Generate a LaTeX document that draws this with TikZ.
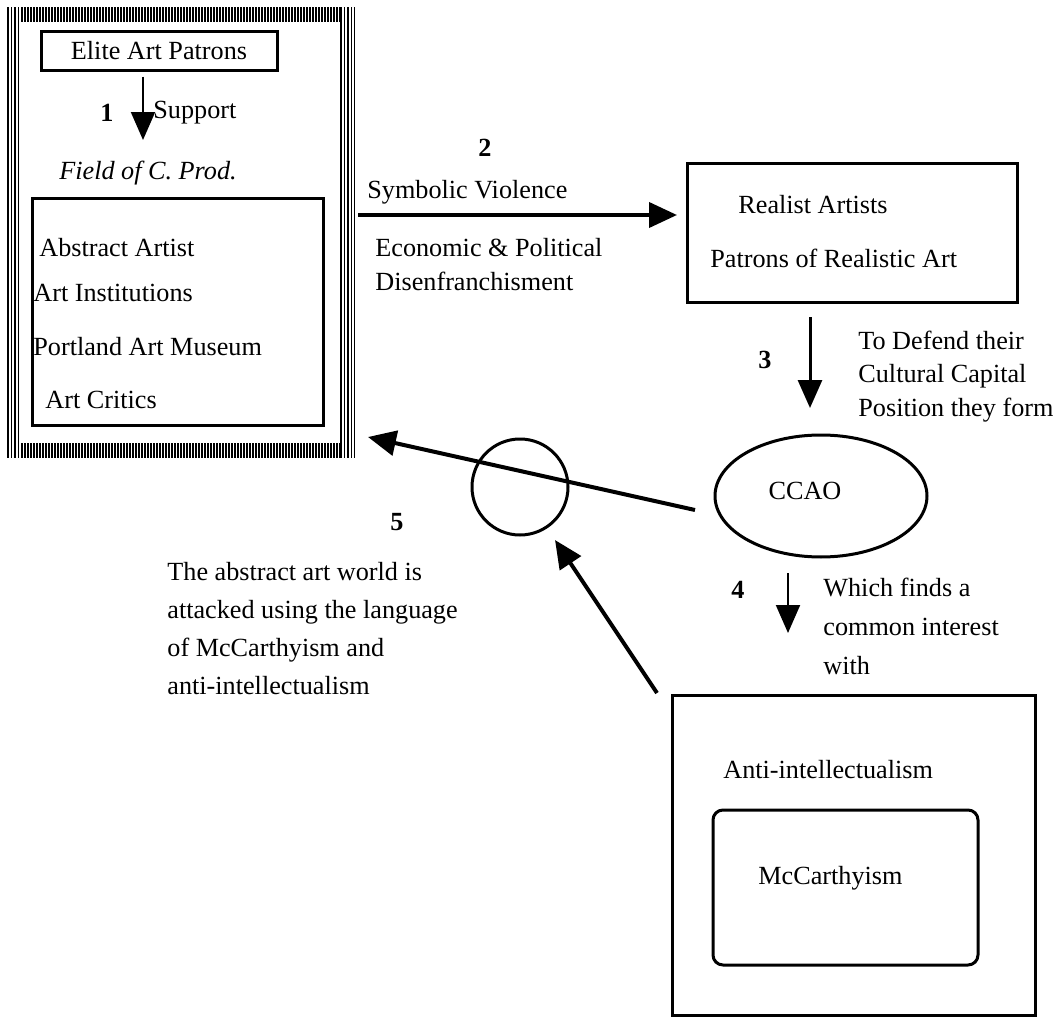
\documentclass[tikz,border=0pt]{standalone}
\usepackage{fontspec}
\setmainfont{Liberation Serif}
\usetikzlibrary{arrows.meta,shapes.geometric}

\begin{document}
\begin{tikzpicture}[x=0.5pt,y=-0.5pt,
    font=\fontsize{13.1}{17}\selectfont,
    box/.style={draw,line width=1.5pt,inner sep=0pt},
    txt/.style={anchor=west,inner sep=0pt,align=left},
    num/.style={inner sep=0pt,font=\fontsize{13.1}{17}\selectfont\bfseries},
    bigarrow/.style={-{Triangle[length=14pt,width=12.5pt]},line width=2pt},
    thinarrow/.style={-{Triangle[length=14pt,width=12pt]},line width=1pt},
    hatch/.style={line width=0.7pt}]
  \useasboundingbox (0,0) rectangle (1062,1017);

  % hatched frame round the field
  \foreach \x in {22,25,...,340} {
    \draw[hatch] (\x,7) -- (\x,22);
    \draw[hatch] (\x,443) -- (\x,458);
  };
  \foreach \x in {8,11.5,15,18.5,341,344.5,348,351.5,354.5}
    \draw[hatch] (\x,7) -- (\x,458);
  \node (frame) at (181,232.5) [minimum width=174pt,minimum height=225.5pt,inner sep=0pt] {};

  \node[box,minimum width=118pt,minimum height=19.5pt] (elite) at (159,50.5) {Elite Art Patrons};
  \node[num] (n1) at (107,113) {1};
  \node[txt] (support) at (153,113) {Support};
  \node[inner sep=0pt,font=\fontsize{13.1}{17}\selectfont\itshape] (fieldlbl) at (148,173) {Field of C. Prod.};
  \node[box,minimum width=145.5pt,minimum height=113.5pt] (field) at (177.5,311.5) {};
  \node[txt] (abstract) at (39,248) {Abstract Artist};
  \node[txt] (inst) at (33,293) {Art Institutions};
  \node[txt] (museum) at (33,347) {Portland Art Museum};
  \node[txt] (critics) at (45,400) {Art Critics};
  \draw[thinarrow] (elite.south -| 143,0) ++(0,5) -- (143,140);

  % symbolic violence
  \node[num] (n2) at (485,148) {2};
  \node[txt] (symb) at (367,192) {Symbolic Violence};
  \node[txt] (econ) at (375,265) {Economic \& Political\\Disenfranchisment};
  \node[box,minimum width=165pt,minimum height=69.5pt] (realist) at (852,232.5) {};
  \node[txt] (realart) at (738,205) {Realist Artists};
  \node[txt] (patrons) at (710,258) {Patrons of Realistic Art};
  \coordinate (s2) at (358,215);
  \draw[bigarrow] (s2) -- (677,215);

  % CCAO
  \node[num] (n3) at (765,360) {3};
  \node[txt,font=\fontsize{13.1}{16.75}\selectfont] (defend) at (858,376.5) {To Defend their\\Cultural Capital\\Position they form};
  \node[draw,ellipse,line width=1.5pt,minimum width=106pt,minimum height=61pt,inner sep=0pt] (ccao) at (821,496) {};
  \node[inner sep=0pt] (ccaolbl) at (805,491) {CCAO};
  \draw[thinarrow,line width=1.5pt] (810,317) -- (810,408);

  % anti-intellectualism
  \node[num] (n4) at (738,590) {4};
  \node[txt,font=\fontsize{13.1}{19.5}\selectfont] (finds) at (823,626) {Which finds a\\common interest\\with};
  \draw[thinarrow] (788,573) -- (788,633);
  \node[box,minimum width=181.5pt,minimum height=160pt] (anti) at (853.5,855) {};
  \node[txt] (antilbl) at (723,770) {Anti-intellectualism};
  \node[box,rounded corners=5pt,minimum width=132.5pt,minimum height=77.5pt] (mcc) at (845.5,887.5) {};
  \node[txt] (mcclbl) at (758,878) {McCarthyism};

  % attack
  \node[draw,circle,line width=1.5pt,minimum size=48pt,inner sep=0pt] (ring) at (520,487) {};
  \node[num] (n5) at (397,522) {5};
  \node[txt,font=\fontsize{13.1}{18.9}\selectfont] (attack) at (167,628.5) {The abstract art world is\\attacked using the language\\of McCarthyism and\\anti-intellectualism};
  \coordinate (s5) at (695,510);
  \coordinate (t5) at (368,437);
  \coordinate (s6) at (657,693);
  \coordinate (t6) at (555,540);
  \draw[bigarrow] (s5) -- (t5);
  \draw[bigarrow] (s6) -- (t6);
\end{tikzpicture}
\end{document}
